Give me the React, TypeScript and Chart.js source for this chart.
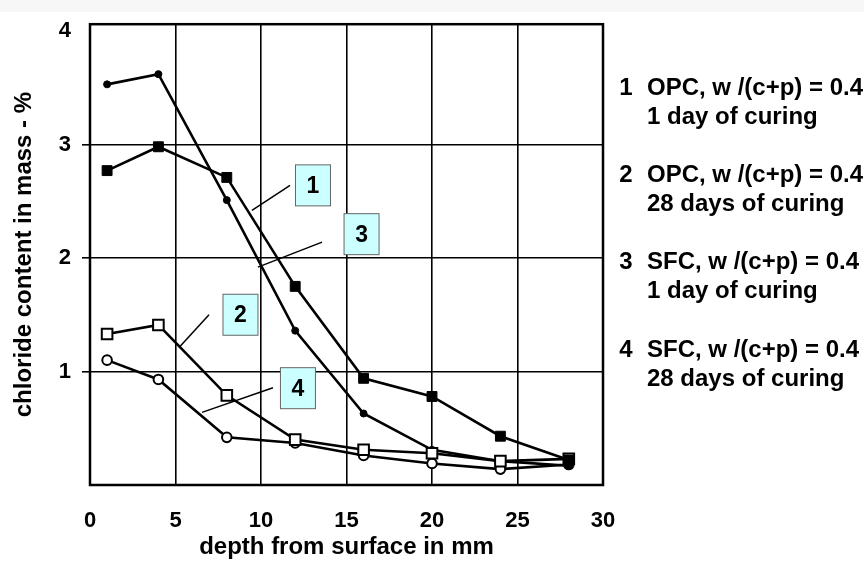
import React, { useEffect, useRef } from 'react';
import { Chart, registerables } from 'chart.js';

Chart.register(...registerables);

// ---- data ----
const depths = [1, 4, 8, 12, 16, 20, 24, 28];
const series1 = [2.77, 2.98, 2.71, 1.75, 0.94, 0.78, 0.43, 0.22]; // 1 OPC, 1 day (filled squares)
const series2 = [1.33, 1.41, 0.79, 0.4, 0.31, 0.28, 0.21, 0.23]; // 2 OPC, 28 days (open squares)
const series3 = [3.53, 3.62, 2.51, 1.36, 0.63, 0.31, 0.21, 0.17]; // 3 SFC, 1 day (filled circles)
const series4 = [1.1, 0.93, 0.42, 0.37, 0.26, 0.19, 0.14, 0.18]; // 4 SFC, 28 days (open circles)

const xTicks = [0, 5, 10, 15, 20, 25, 30];
const yTicks = [1, 2, 3, 4];

const legendNumbers = ['1', '2', '3', '4'];
const legendLine1 = ['OPC, w /(c+p) = 0.4', 'OPC, w /(c+p) = 0.4', 'SFC, w /(c+p) = 0.4', 'SFC, w /(c+p) = 0.4'];
const legendLine2 = ['1 day of curing', '28 days of curing', '1 day of curing', '28 days of curing'];

// callout boxes (data coordinates)
const boxLabels = ['1', '3', '2', '4'];
const boxX = [13.04, 15.88, 8.8, 12.16];
const boxY = [2.64, 2.21, 1.5, 0.853];
const leaderFromX = [11.7, 13.57, 6.96, 10.7];
const leaderFromY = [2.64, 2.14, 1.5, 0.857];
const leaderToX = [9.47, 9.82, 5.26, 6.55];
const leaderToY = [2.42, 1.92, 1.22, 0.64];

const FONT = '"Liberation Sans", Arial, Helvetica, sans-serif';

const decorPlugin = {
  id: 'decor',
  beforeDraw(chart: any) {
    const ctx = chart.ctx;
    ctx.save();
    ctx.fillStyle = '#f7f7f7';
    ctx.fillRect(0, 0, chart.width, 12);
    ctx.restore();
  },
  beforeDatasetsDraw(chart: any) {
    const { ctx, chartArea } = chart;
    ctx.save();
    ctx.strokeStyle = '#000';
    ctx.lineWidth = 2.5;
    ctx.strokeRect(chartArea.left, chartArea.top, chartArea.right - chartArea.left, chartArea.bottom - chartArea.top);
    ctx.restore();
  },
  afterDatasetsDraw(chart: any) {
    const { ctx } = chart;
    const xs = chart.scales.x;
    const ys = chart.scales.y;
    ctx.save();
    ctx.strokeStyle = '#000';
    ctx.lineWidth = 1.5;
    for (let i = 0; i < boxLabels.length; i++) {
      ctx.beginPath();
      ctx.moveTo(xs.getPixelForValue(leaderFromX[i]), ys.getPixelForValue(leaderFromY[i]));
      ctx.lineTo(xs.getPixelForValue(leaderToX[i]), ys.getPixelForValue(leaderToY[i]));
      ctx.stroke();
    }
    const w = 35;
    const h = 41;
    for (let i = 0; i < boxLabels.length; i++) {
      const cx = xs.getPixelForValue(boxX[i]);
      const cy = ys.getPixelForValue(boxY[i]);
      ctx.fillStyle = '#ccffff';
      ctx.fillRect(cx - w / 2, cy - h / 2, w, h);
      ctx.strokeStyle = '#666';
      ctx.lineWidth = 1;
      ctx.strokeRect(cx - w / 2, cy - h / 2, w, h);
      ctx.fillStyle = '#000';
      ctx.font = `bold 23px ${FONT}`;
      ctx.textAlign = 'center';
      ctx.textBaseline = 'middle';
      ctx.fillText(boxLabels[i], cx, cy + 1);
    }
    ctx.restore();
  },
  afterDraw(chart: any) {
    const { ctx } = chart;
    ctx.save();
    ctx.fillStyle = '#000';
    ctx.font = `bold 24px ${FONT}`;
    ctx.textBaseline = 'middle';
    const firstY = 88;
    const gap = 87.3;
    for (let i = 0; i < legendNumbers.length; i++) {
      const y = firstY + i * gap;
      ctx.textAlign = 'center';
      ctx.fillText(legendNumbers[i], 626, y);
      ctx.textAlign = 'left';
      ctx.fillText(legendLine1[i], 647, y);
      ctx.fillText(legendLine2[i], 647, y + 29);
    }
    ctx.restore();
  },
};

export default function App() {
  const ref = useRef<HTMLCanvasElement | null>(null);

  useEffect(() => {
    document.body.style.margin = '0';
    const canvas = ref.current;
    if (!canvas) return;
    const common = { borderColor: '#000', borderWidth: 2.6, tension: 0, pointBorderColor: '#000' };
    const chart = new Chart(canvas, {
      type: 'line',
      data: {
        datasets: [
          {
            label: '1',
            data: depths.map((d, i) => ({ x: d, y: series1[i] })),
            ...common,
            pointStyle: 'rect',
            pointRadius: 7,
            pointBackgroundColor: '#000',
            pointBorderWidth: 1,
          },
          {
            label: '2',
            data: depths.map((d, i) => ({ x: d, y: series2[i] })),
            ...common,
            pointStyle: 'rect',
            pointRadius: 7.5,
            pointBackgroundColor: '#fff',
            pointBorderWidth: 2,
          },
          {
            label: '3',
            data: depths.map((d, i) => ({ x: d, y: series3[i] })),
            ...common,
            pointStyle: 'circle',
            pointRadius: 3.5,
            pointBackgroundColor: '#000',
            pointBorderWidth: 1,
          },
          {
            label: '4',
            data: depths.map((d, i) => ({ x: d, y: series4[i] })),
            ...common,
            pointStyle: 'circle',
            pointRadius: 4.8,
            pointBackgroundColor: '#fff',
            pointBorderWidth: 2,
          },
        ],
      },
      options: {
        animation: false,
        responsive: false,
        maintainAspectRatio: false,
        layout: { padding: { top: 21, right: 261, left: 0, bottom: 0 } },
        plugins: { legend: { display: false }, tooltip: { enabled: false } },
        scales: {
          x: {
            type: 'linear',
            min: 0,
            max: 30,
            afterBuildTicks: (s: any) => {
              s.ticks = xTicks.map((v) => ({ value: v }));
            },
            afterFit: (s: any) => {
              s.height = 77;
            },
            ticks: { color: '#000', font: { family: FONT, size: 22, weight: 'bold' }, padding: 23 },
            grid: {
              color: (c: any) => (c.tick && (c.tick.value === 0 || c.tick.value === 30) ? 'rgba(0,0,0,0)' : '#000'),
              lineWidth: 1.6,
              drawTicks: false,
            },
            border: { display: false },
            title: {
              display: true,
              text: 'depth from surface in mm',
              color: '#000',
              font: { family: FONT, size: 24, weight: 'bold' },
              padding: { top: 0, bottom: 0 },
            },
          },
          y: {
            type: 'linear',
            min: 0,
            max: 4.06,
            afterBuildTicks: (s: any) => {
              s.ticks = yTicks.map((v) => ({ value: v }));
            },
            afterFit: (s: any) => {
              s.width = 90;
            },
            ticks: { color: '#000', font: { family: FONT, size: 22, weight: 'bold' }, padding: 11 },
            grid: {
              color: (c: any) => (c.tick && c.tick.value === 4 ? 'rgba(0,0,0,0)' : '#000'),
              lineWidth: 1.6,
              tickLength: 8,
            },
            border: { display: false },
            title: {
              display: true,
              text: 'chloride content in mass - %',
              color: '#000',
              font: { family: FONT, size: 24, weight: 'bold' },
              padding: { top: 10, bottom: 0 },
            },
          },
        },
      },
      plugins: [decorPlugin],
    } as any);
    return () => chart.destroy();
  }, []);

  return (
    <div style={{ position: 'fixed', left: 0, top: 0, width: 864, height: 562, background: '#fff' }}>
      <canvas ref={ref} width={864} height={562} />
    </div>
  );
}
